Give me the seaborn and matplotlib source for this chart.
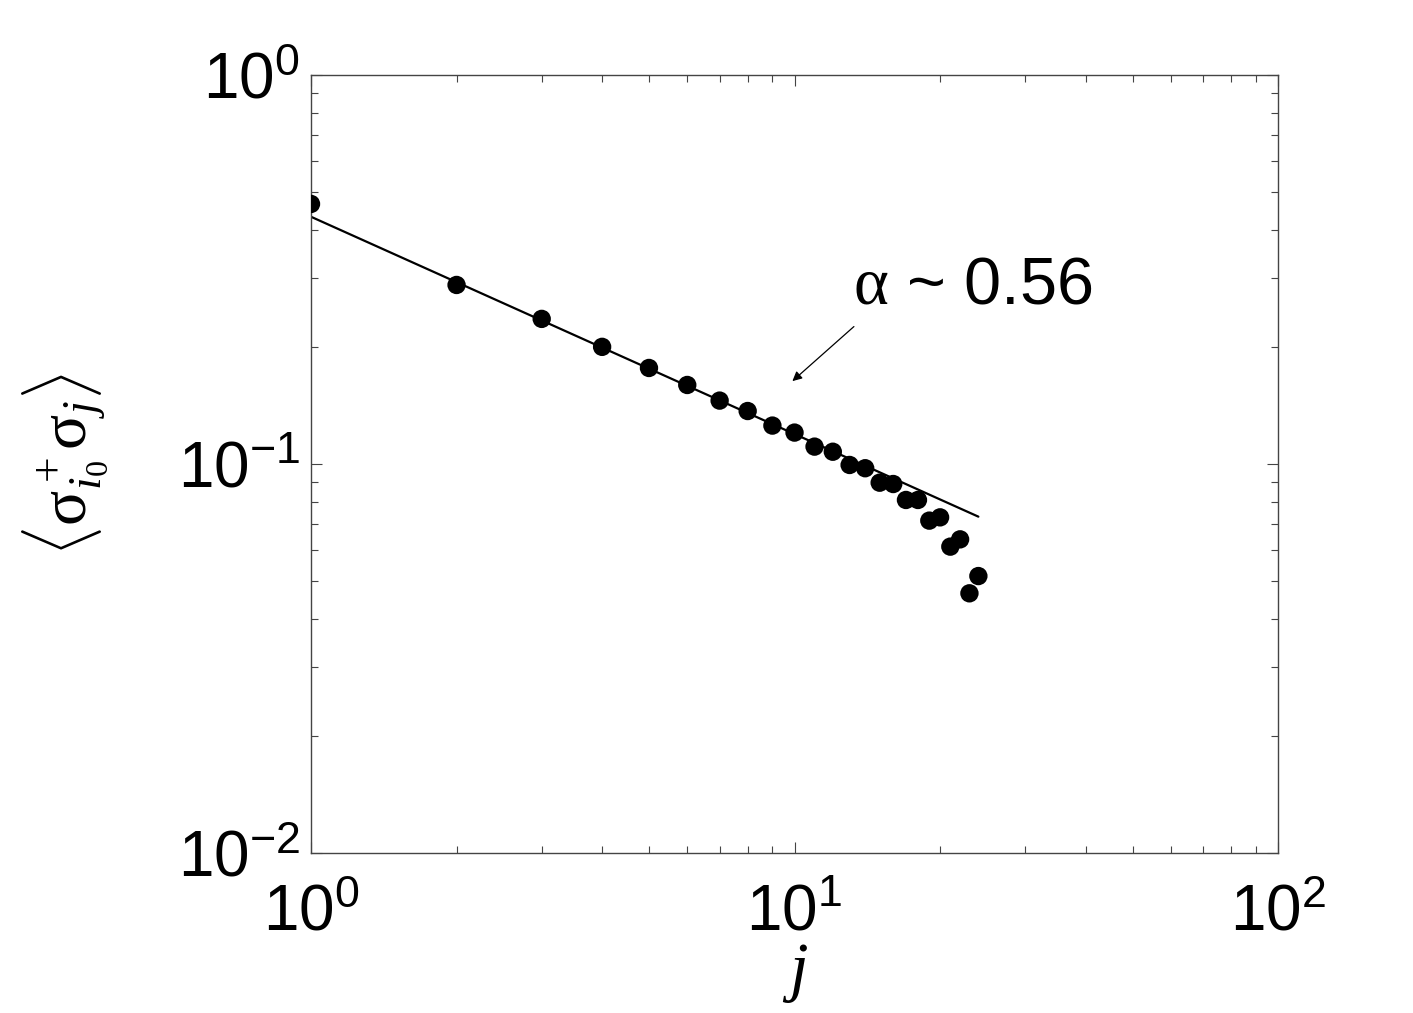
"""
Correlation decay <sigma+_i0 sigma_j> vs distance j, log-log with power-law fit
"""
import numpy as np
import pandas as pd
import matplotlib
matplotlib.use("Agg")
import matplotlib.pyplot as plt
import seaborn as sns

# data
j_vals = list(range(1, 25))
corr_vals = [0.466, 0.2885, 0.236, 0.200, 0.1765, 0.1596, 0.1455, 0.1368,
             0.1255, 0.1204, 0.1108, 0.1075, 0.0994, 0.0975, 0.0895, 0.0888,
             0.0808, 0.0808, 0.0715, 0.0729, 0.0613, 0.0640, 0.0465, 0.0515]

# power-law fit endpoints (alpha ~ 0.56)
fit_j = [1, 24]
fit_vals = [0.432, 0.0732]
fit_label = r"$\mathrm{\alpha}$ ~ 0.56"

sns.set_style("ticks")
plt.rcParams["font.family"] = ["Liberation Sans", "DejaVu Sans"]
plt.rcParams["mathtext.fontset"] = "custom"
plt.rcParams["mathtext.rm"] = "Liberation Serif"
plt.rcParams["mathtext.it"] = "Liberation Serif:italic"
plt.rcParams["mathtext.sf"] = "Liberation Sans"
for key in ["text.color", "axes.labelcolor", "xtick.labelcolor", "ytick.labelcolor"]:
    plt.rcParams[key] = "black"

df = pd.DataFrame({"j": j_vals, "corr": corr_vals})
df_fit = pd.DataFrame({"j": fit_j, "corr": fit_vals})

fig = plt.figure(figsize=(14.13, 10.13), dpi=100)
ax = fig.add_axes([0.2201, 0.158, 0.6844, 0.768])

sns.lineplot(data=df_fit, x="j", y="corr", color="black", linewidth=1.6, ax=ax)
sns.scatterplot(data=df, x="j", y="corr", color="black", s=175,
                edgecolor="none", ax=ax, zorder=3)

ax.set_xscale("log")
ax.set_yscale("log")
ax.set_xlim(1, 100)
ax.set_ylim(0.01, 1)

# MATLAB-like box with inward ticks on every side
for sp in ax.spines.values():
    sp.set_visible(True)
    sp.set_color("#444444")
    sp.set_linewidth(1.0)
ax.tick_params(which="both", direction="in", top=True, right=True,
               color="#444444", width=0.8)
ax.tick_params(which="major", length=8, labelsize=46)
ax.tick_params(axis="x", which="major", pad=22)
ax.tick_params(axis="y", which="major", pad=8)
ax.tick_params(which="minor", length=5)

ax.set_xlabel(r"$j$", fontsize=48)
ax.set_ylabel(r"$\langle\mathrm{\sigma}^+_{i_0}\mathrm{\sigma}_j\rangle$",
              fontsize=47)
ax.xaxis.set_label_coords(0.5, -0.114)
ax.yaxis.set_label_coords(-0.208, 0.5)

ax.text(13.2, 0.258, fit_label, fontsize=48, ha="left", va="baseline")
ax.annotate("", xy=(9.8, 0.1615), xytext=(13.4, 0.228),
            arrowprops=dict(arrowstyle="-|>", color="black", lw=0.9,
                            mutation_scale=14))

fig.savefig("out.png", dpi=100)
